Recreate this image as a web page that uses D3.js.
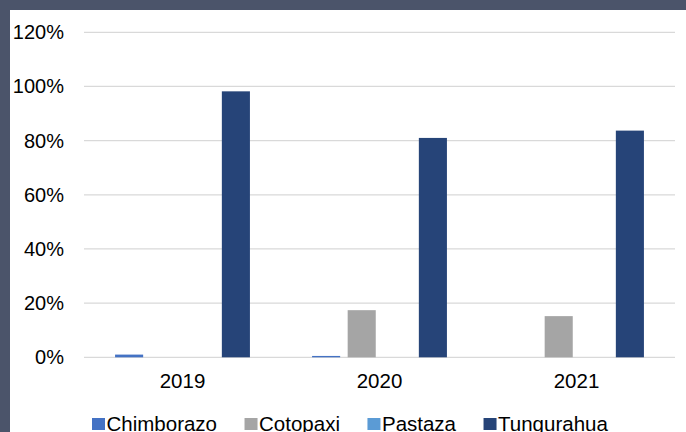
<!DOCTYPE html>
<html>
<head>
<meta charset="utf-8">
<script src="https://cdn.jsdelivr.net/npm/d3@7"></script>
<style>
  html, body { margin: 0; padding: 0; background: #4b546a; }
  svg { display: block; }
  text { font-family: "Liberation Sans", Arial, Helvetica, sans-serif; fill: #000; }
</style>
</head>
<body>
<svg id="chart" width="686" height="432"></svg>
<script>
const years = ["2019", "2020", "2021"];
const seriesNames = ["Chimborazo", "Cotopaxi", "Pastaza", "Tungurahua"];
const chimborazo = [1.0, 0.5, 0];
const cotopaxi = [0, 17.4, 15.2];
const pastaza = [0, 0, 0];
const tungurahua = [98.2, 81.0, 83.7];
const colors = ["#4472c4", "#a5a5a5", "#5b9bd5", "#264478"];
const yTicks = [0, 20, 40, 60, 80, 100, 120];

const seriesValues = [chimborazo, cotopaxi, pastaza, tungurahua];

const svg = d3.select("#chart");
const W = 686, H = 432;

// white panel with dark frame on top and left
svg.append("rect").attr("x", 0).attr("y", 0).attr("width", W).attr("height", H).attr("fill", "#4b546a");
svg.append("rect").attr("x", 10).attr("y", 10).attr("width", W - 10).attr("height", H - 10).attr("fill", "#ffffff");

const plot = { left: 84, right: 675, top: 32.3, bottom: 357.3 };

const y = d3.scaleLinear().domain([0, 120]).range([plot.bottom, plot.top]);
const x0 = d3.scaleBand().domain(years).range([plot.left, plot.right]).paddingInner(0).paddingOuter(0);
const x1 = d3.scaleBand().domain(seriesNames).range([0, x0.bandwidth()])
  .paddingInner(0.211).paddingOuter(0.873);

// gridlines
svg.append("g").selectAll("line").data(yTicks).join("line")
  .attr("x1", plot.left).attr("x2", plot.right)
  .attr("y1", d => y(d)).attr("y2", d => y(d))
  .attr("stroke", "#d9d9d9").attr("stroke-width", 1.3);

// y axis labels
const yAxis = d3.axisLeft(y).tickValues(yTicks).tickFormat(d => d + "%").tickSize(0).tickPadding(0);
const yg = svg.append("g").attr("transform", `translate(64,0)`).call(yAxis);
yg.select(".domain").remove();
yg.selectAll("text").attr("font-size", 20).attr("font-family", "'Liberation Sans', Arial, sans-serif").attr("fill", "#000");

// bars
const groups = svg.append("g").selectAll("g").data(years).join("g")
  .attr("transform", d => `translate(${x0(d)},0)`);
groups.selectAll("rect")
  .data((yr, i) => seriesNames.map((s, j) => ({ s, j, v: seriesValues[j][i] })))
  .join("rect")
  .attr("x", d => x1(d.s))
  .attr("width", x1.bandwidth())
  .attr("y", d => y(d.v))
  .attr("height", d => plot.bottom - y(d.v))
  .attr("fill", d => colors[d.j]);

// x axis labels
const xAxis = d3.axisBottom(x0).tickSize(0).tickPadding(0);
const xg = svg.append("g").attr("transform", `translate(0,${plot.bottom + 16.5})`).call(xAxis);
xg.select(".domain").remove();
xg.selectAll("text").attr("font-size", 20.5).attr("font-family", "'Liberation Sans', Arial, sans-serif").attr("fill", "#000");

// legend
const legend = svg.append("g");
let lx = 92;
seriesNames.forEach((name, i) => {
  legend.append("rect").attr("x", lx).attr("y", 418).attr("width", 13).attr("height", 12).attr("fill", colors[i]);
  const t = legend.append("text").attr("x", lx + 14.5).attr("y", 430.5).attr("font-size", 20.5).text(name);
  const w = t.node().getComputedTextLength();
  lx = lx + 14.5 + w + 27.5;
});
</script>
</body>
</html>
